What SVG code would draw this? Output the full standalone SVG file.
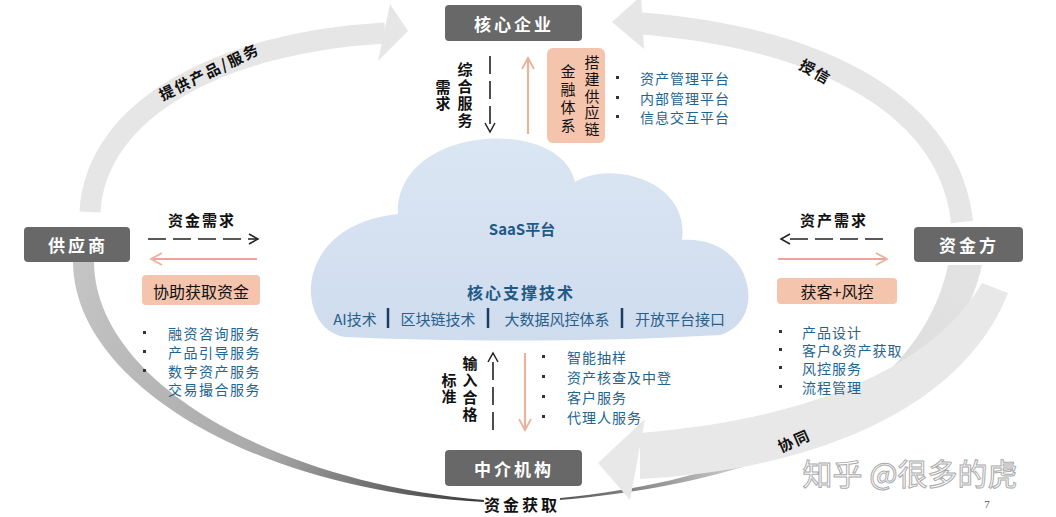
<svg xmlns="http://www.w3.org/2000/svg" width="1056" height="517" viewBox="0 0 1056 517">
<style>
text{font-family:"Noto Sans CJK SC","Noto Sans",sans-serif}
.node rect{fill:#686868}
.node text{fill:#fff;font-size:17px;font-weight:bold;letter-spacing:3px;text-anchor:middle;dominant-baseline:central}
.lbl{fill:#111;font-size:15px;font-weight:bold;dominant-baseline:central}
.mid{text-anchor:middle}
.vert{writing-mode:vertical-rl;text-anchor:start}
.blue{fill:#1f6591;font-size:14px;dominant-baseline:central}
.tech{fill:#2a5f89;font-size:15px;text-anchor:middle;dominant-baseline:central}
.peach{fill:#f5c4ad}
.dash{stroke:#222;stroke-width:1.6;fill:none;stroke-dasharray:18 7}
.salmon{stroke:#eab39b;stroke-width:2.2;fill:none}
.band{fill:#e6e6e6}
.bul{fill:#333}
</style>
<defs>
<marker id="ahk" viewBox="0 0 12 12" refX="10" refY="6" markerWidth="12" markerHeight="12" orient="auto" markerUnits="userSpaceOnUse"><path d="M1,1 L10,6 L1,11" fill="none" stroke="#222" stroke-width="1.5"/></marker>
<marker id="ahs" viewBox="0 0 14 14" refX="12" refY="7" markerWidth="14" markerHeight="14" orient="auto" markerUnits="userSpaceOnUse"><path d="M1,1 L12,7 L1,13" fill="none" stroke="#eab39b" stroke-width="1.8"/></marker>
<linearGradient id="gl" gradientUnits="userSpaceOnUse" x1="80" y1="270" x2="480" y2="505">
<stop offset="0" stop-color="#c4c4c4"/><stop offset="0.55" stop-color="#a8a8a8"/><stop offset="1" stop-color="#3a3a3a"/></linearGradient>
<linearGradient id="gr" gradientUnits="userSpaceOnUse" x1="960" y1="270" x2="560" y2="500">
<stop offset="0" stop-color="#e2e2e2"/><stop offset="0.6" stop-color="#d6d6d6"/><stop offset="1" stop-color="#555"/></linearGradient>
<linearGradient id="gc" x1="0" y1="0" x2="0" y2="1">
<stop offset="0" stop-color="#dbe6f3"/><stop offset="1" stop-color="#cfdcee"/></linearGradient>
</defs>

<g id="connectors">
  <path d="M90 212 C95 110 220 42 385 33" fill="none" stroke="#e6e6e6" stroke-width="21"/>
  <polygon class="band" points="390,4 408,31 378,61"/>
  <text class="lbl" transform="translate(209 71) rotate(-26)" text-anchor="middle" style="letter-spacing:2px">提供产品/服务</text>
  <path d="M962 222 C950 110 830 38 636 23" fill="none" stroke="#e6e6e6" stroke-width="22"/>
  <polygon class="band" points="612,22 641,-4 644,49"/>
  <text class="lbl" transform="translate(816 71) rotate(30)" text-anchor="middle" style="letter-spacing:2px">授信</text>
  <path d="M73 262 C74 385 260 492 484 502 L484 500 C270 482 95 380 94 262 Z" fill="url(#gl)"/>
  <path d="M982 265 C955 390 800 480 560 500 L560 498 C790 476 925 380 948 265 Z" fill="url(#gr)"/>
  <path d="M640 433 C800 420 930 372 982 283 L1008 293 C962 410 812 470 640 479 Z" fill="#e8e8e8"/>
  <polygon points="598,463 645,419 630,500" fill="#e8e8e8"/>
  <text class="lbl" transform="translate(794 440) rotate(-24)" text-anchor="middle" style="letter-spacing:2px">协同</text>
  <text class="lbl mid" x="522" y="504" style="font-size:16px;letter-spacing:3px">资金获取</text>

  <path class="dash" d="M490 56 L490 132" marker-end="url(#ahk)"/>
  <path class="salmon" d="M528 134 L528 58" marker-end="url(#ahs)"/>
  <path class="dash" d="M148 239 L258 239" marker-end="url(#ahk)"/>
  <path class="salmon" d="M257 259 L151 259" marker-end="url(#ahs)" style="stroke:#eea49c"/>
  <path class="dash" d="M883 239 L781 239" marker-end="url(#ahk)"/>
  <path class="salmon" d="M778 259 L887 259" marker-end="url(#ahs)" style="stroke:#eea49c"/>
  <path class="dash" d="M493 430 L493 353" marker-end="url(#ahk)"/>
  <path class="salmon" d="M525 353 L525 430" marker-end="url(#ahs)"/>
</g>

<g id="cloud">
  <path d="M345 337 C295 330 290 225 398 214 C395 125 560 115 575 182 C610 160 690 180 682 240 C752 235 770 320 720 335 C600 342 450 342 345 337 Z" fill="url(#gc)"/>
  <text x="522" y="228" style="fill:#1f5a86;font-size:15px;font-weight:bold;text-anchor:middle;dominant-baseline:central">SaaS平台</text>
  <text x="521" y="292" style="fill:#1f5a86;font-size:16px;font-weight:bold;text-anchor:middle;dominant-baseline:central;letter-spacing:2px">核心支撑技术</text>
  <text class="tech" x="355" y="318">AI技术</text>
  <text class="tech" x="438" y="318">区块链技术</text>
  <text class="tech" x="557" y="318">大数据风控体系</text>
  <text class="tech" x="680" y="318">开放平台接口</text>
  <g stroke="#1a3c5e" stroke-width="2.5">
    <line x1="388" y1="308" x2="388" y2="328"/>
    <line x1="488" y1="308" x2="488" y2="328"/>
    <line x1="622" y1="308" x2="622" y2="328"/>
  </g>
</g>

<g id="node-core" class="node">
  <rect x="445" y="5" width="137" height="36" rx="4"/>
  <text x="514" y="23">核心企业</text>
</g>
<g id="node-supplier" class="node">
  <rect x="24" y="227" width="106" height="35" rx="4"/>
  <text x="78" y="244.5">供应商</text>
</g>
<g id="node-funder" class="node">
  <rect x="914" y="227" width="109" height="35" rx="4"/>
  <text x="969" y="244.5">资金方</text>
</g>
<g id="node-intermediary" class="node">
  <rect x="445" y="450" width="137" height="36" rx="4"/>
  <text x="514" y="468">中介机构</text>
</g>

<g id="top-detail">
  <text class="lbl vert" x="465" y="62" style="letter-spacing:2px">综合服务</text>
  <text class="lbl vert" x="443" y="80" style="letter-spacing:1px">需求</text>
  <rect class="peach" x="547" y="48" width="58" height="95" rx="6"/>
  <text class="lbl vert" x="592" y="55" style="font-weight:normal;letter-spacing:1.7px">搭建供应链</text>
  <text class="lbl vert" x="568" y="64" style="font-weight:normal;letter-spacing:3px">金融体系</text>
  <rect class="bul" x="616" y="76" width="3" height="3"/>
  <rect class="bul" x="616" y="96" width="3" height="3"/>
  <rect class="bul" x="616" y="115" width="3" height="3"/>
  <text class="blue" x="640" y="78" style="letter-spacing:1px">资产管理平台</text>
  <text class="blue" x="640" y="98" style="letter-spacing:1px">内部管理平台</text>
  <text class="blue" x="640" y="117" style="letter-spacing:1px">信息交互平台</text>
</g>

<g id="left-detail">
  <text class="lbl mid" x="202" y="219" style="letter-spacing:2px">资金需求</text>
  <rect class="peach" x="142" y="275" width="118" height="30" rx="4"/>
  <text class="lbl mid" x="201" y="291" style="font-weight:normal;font-size:16px">协助获取资金</text>
  <rect class="bul" x="143" y="331" width="3" height="3"/>
  <rect class="bul" x="143" y="350" width="3" height="3"/>
  <rect class="bul" x="143" y="369" width="3" height="3"/>
  <text class="blue" x="168" y="333" style="letter-spacing:1.5px">融资咨询服务</text>
  <text class="blue" x="168" y="352" style="letter-spacing:1.5px">产品引导服务</text>
  <text class="blue" x="168" y="371" style="letter-spacing:1.5px">数字资产服务</text>
  <text class="blue" x="168" y="389" style="letter-spacing:1.5px">交易撮合服务</text>
</g>

<g id="right-detail">
  <text class="lbl mid" x="834" y="219" style="letter-spacing:2px">资产需求</text>
  <rect class="peach" x="777" y="278" width="120" height="26" rx="4"/>
  <text class="lbl mid" x="837" y="291" style="font-weight:normal;font-size:16px">获客+风控</text>
  <rect class="bul" x="779" y="330" width="3" height="3"/>
  <rect class="bul" x="779" y="348" width="3" height="3"/>
  <rect class="bul" x="779" y="366" width="3" height="3"/>
  <rect class="bul" x="779" y="385" width="3" height="3"/>
  <text class="blue" x="802" y="332" style="letter-spacing:1px">产品设计</text>
  <text class="blue" x="802" y="350" style="letter-spacing:1px">客户&amp;资产获取</text>
  <text class="blue" x="802" y="368" style="letter-spacing:1px">风控服务</text>
  <text class="blue" x="802" y="387" style="letter-spacing:1px">流程管理</text>
</g>

<g id="bottom-detail">
  <text class="lbl vert" x="470" y="356" style="letter-spacing:2px">输入合格</text>
  <text class="lbl vert" x="449" y="373" style="letter-spacing:1px">标准</text>
  <rect class="bul" x="542" y="355" width="3" height="3"/>
  <rect class="bul" x="542" y="375" width="3" height="3"/>
  <rect class="bul" x="542" y="395" width="3" height="3"/>
  <rect class="bul" x="542" y="415" width="3" height="3"/>
  <text class="blue" x="567" y="357" style="letter-spacing:1px">智能抽样</text>
  <text class="blue" x="567" y="377" style="letter-spacing:1px">资产核查及中登</text>
  <text class="blue" x="567" y="397" style="letter-spacing:1px">客户服务</text>
  <text class="blue" x="567" y="417" style="letter-spacing:1px">代理人服务</text>
</g>

<text x="910" y="472" style="font-size:30px;fill:#fff;stroke:#aaa;stroke-width:1;text-anchor:middle;dominant-baseline:central">知乎 @很多的虎</text>
<text x="987" y="504" style="font-family:'Liberation Serif',serif;font-size:11px;fill:#555;text-anchor:middle;dominant-baseline:central">7</text>
</svg>
